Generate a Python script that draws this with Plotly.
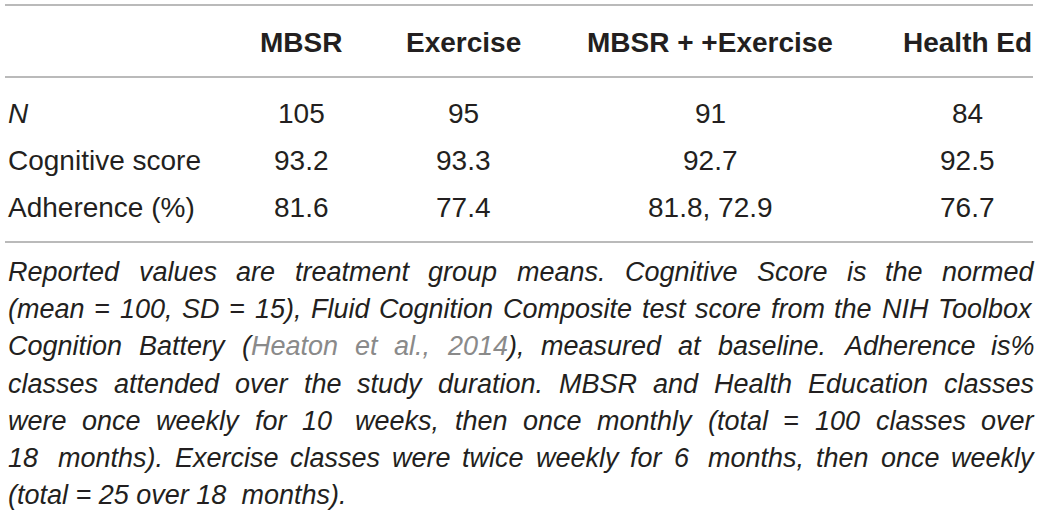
# plot.py
# Tabla de medias por grupo de tratamiento, recreada con anotaciones de Plotly

# %% 1. IMPORTACIONES
import plotly.graph_objects as go

# %% 2. DATOS
grupos = ["MBSR", "Exercise", "MBSR + +Exercise", "Health Ed"]
filas = ["N", "Cognitive score", "Adherence (%)"]
n_por_grupo = ["105", "95", "91", "84"]
puntaje_cognitivo = ["93.2", "93.3", "92.7", "92.5"]
adherencia = ["81.6", "77.4", "81.8, 72.9", "76.7"]

cita = "Heaton et al., 2014"
nota = [
    "Reported values are treatment group means. Cognitive Score is the normed",
    "(mean = 100, SD = 15), Fluid Cognition Composite test score from the NIH Toolbox",
    f"Cognition Battery ({cita}), measured at baseline. Adherence is%",
    "classes attended over the study duration. MBSR and Health Education classes",
    "were once weekly for 10  weeks, then once monthly (total = 100 classes over",
    "18  months). Exercise classes were twice weekly for 6  months, then once weekly",
    "(total = 25 over 18  months).",
]

# %% 3. ESTILO
FUENTE = "Liberation Sans"
TXT = "#231f20"
GRIS_LINEA = "#a3a3a3"
GRIS_CITA = "#8a8a8a"
ANCHO, ALTO = 1041, 515

x_etiqueta = 7
x_columnas = [301, 463, 710, 967]
y_encabezado = 42
y_filas = [113, 160, 207]
y_lineas = [5, 77, 242]
x_izq, x_der = 7, 1033
y_nota0, paso_nota = 272, 37.2
tam_tabla, tam_nota = 28, 27

# anchos de Arial / Liberation Sans (unidades de 1/1000 em)
ANCHOS = dict(zip("abcdefghijklmnopqrstuvwxyz",
                  [556, 556, 500, 556, 556, 278, 556, 556, 222, 222, 500, 222, 833,
                   556, 556, 556, 556, 333, 500, 278, 556, 500, 722, 500, 500, 500]))
ANCHOS.update(dict(zip("ABCDEFGHIJKLMNOPQRSTUVWXYZ",
                       [667, 667, 722, 722, 667, 611, 778, 722, 278, 500, 667, 556, 833,
                        722, 778, 667, 778, 722, 667, 611, 722, 667, 944, 667, 667, 611])))
ANCHOS.update({c: 556 for c in "0123456789"})
ANCHOS.update({" ": 278, "(": 333, ")": 333, "=": 584, ",": 278, ".": 278, "%": 889, "+": 584})


def ancho(texto, tam=tam_nota):
    return sum(ANCHOS.get(c, 556) for c in texto) * tam / 1000


fig = go.Figure()
anotaciones = []

# --- A. ENCABEZADO ---
for g, xc in zip(grupos, x_columnas):
    anotaciones.append(dict(x=xc, y=y_encabezado, text=f"<b>{g}</b>", xanchor="center",
                            font=dict(size=tam_tabla, color=TXT, family=FUENTE)))

# --- B. CUERPO DE LA TABLA ---
valores = [n_por_grupo, puntaje_cognitivo, adherencia]
for fila, vals, y in zip(filas, valores, y_filas):
    anotaciones.append(dict(x=x_etiqueta, y=y, text=fila, xanchor="left",
                            font=dict(size=tam_tabla, color=TXT, family=FUENTE,
                                      style="italic" if fila == "N" else "normal")))
    for v, xc in zip(vals, x_columnas):
        anotaciones.append(dict(x=xc, y=y, text=v, xanchor="center",
                                font=dict(size=tam_tabla, color=TXT, family=FUENTE)))

# --- C. NOTA AL PIE (justificada palabra por palabra) ---
def colorear(linea, inicio, palabra):
    # marca en gris la parte de la palabra que pertenece a la cita
    i_cita = linea.find(cita)
    fuera = []
    for k, c in enumerate(palabra):
        pos = inicio + k
        fuera.append(i_cita >= 0 and i_cita <= pos < i_cita + len(cita))
    html, actual, tramo = "", None, ""
    for c, gris in zip(palabra, fuera):
        if gris != actual and tramo:
            html += f'<span style="color:{GRIS_CITA}">{tramo}</span>' if actual else tramo
            tramo = ""
        actual = gris
        tramo += c
    html += f'<span style="color:{GRIS_CITA}">{tramo}</span>' if actual else tramo
    return html


for i, linea in enumerate(nota):
    y = y_nota0 + i * paso_nota
    fuente = dict(size=tam_nota, color=TXT, family=FUENTE, style="italic")
    if i == len(nota) - 1:
        anotaciones.append(dict(x=x_izq, y=y, text=linea, xanchor="left", font=fuente))
        continue
    palabras, extra, idx = [], 0.0, 0
    for p in linea.split(" "):
        if p == "":
            extra += ancho(" ")
            idx += 1
            continue
        palabras.append((p, ancho(p), extra, idx))
        extra = 0.0
        idx += len(p) + 1
    total = sum(w + e for _, w, e, _ in palabras)
    hueco = (x_der - x_izq - total) / (len(palabras) - 1)
    x = x_izq
    for p, w, e, ini in palabras:
        x += e
        anotaciones.append(dict(x=x, y=y, text=colorear(linea, ini, p), xanchor="left",
                                font=fuente))
        x += w + hueco

for a in anotaciones:
    a.update(xref="x", yref="y", showarrow=False, yanchor="middle", borderpad=0)

# --- D. FILETES HORIZONTALES ---
formas = [dict(type="line", xref="x", yref="y", x0=5, x1=1033, y0=yl, y1=yl,
               line=dict(color=GRIS_LINEA, width=1.5)) for yl in y_lineas]

fig.update_layout(
    width=ANCHO, height=ALTO,
    margin=dict(l=0, r=0, t=0, b=0),
    paper_bgcolor="white", plot_bgcolor="white",
    xaxis=dict(range=[0, ANCHO], visible=False, fixedrange=True),
    yaxis=dict(range=[ALTO, 0], visible=False, fixedrange=True),
    annotations=anotaciones, shapes=formas, showlegend=False,
)

# quitamos el margen por defecto del <body> para que la figura ocupe toda la ventana
fig.write_html("out.html", config={"displayModeBar": False},
               post_script="document.body.style.margin='0px';document.body.style.overflow='hidden';")
